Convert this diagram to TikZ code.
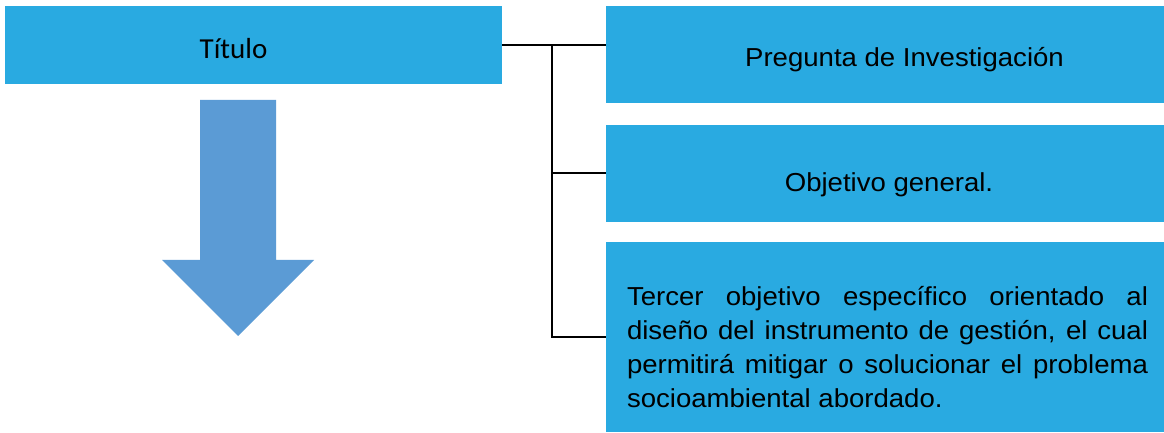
\documentclass[tikz,border=0pt]{standalone}
\usepackage{fontspec}
\setmainfont{Liberation Sans}[FakeStretch=1.06]
\newfontfamily\calibri{Carlito}
\definecolor{cajaazul}{RGB}{41,170,225}
\definecolor{flechaazul}{RGB}{91,155,213}
\def\px{0.5pt}

\begin{document}
\begin{tikzpicture}[x=0.5pt, y=-0.5pt, every node/.style={inner sep=0pt, outer sep=0pt}]
			\tikzstyle{caja}=[rectangle, fill=cajaazul, draw=none]
			\tikzstyle{texto}=[font=\fontsize{13}{17}\selectfont, anchor=base]
			\tikzstyle{linea}=[line width=1pt, black]
			\useasboundingbox (0,0) rectangle (1164,433);
			
			\node[caja, minimum width=497*\px, minimum height=78*\px](titulo) at (253.5,45) {};
			\node[caja, minimum width=558*\px, minimum height=97*\px](preg) at (885,54.5) {};
			\node[caja, minimum width=558*\px, minimum height=97*\px](obj) at (885,173.5) {};
			\node[caja, minimum width=558*\px, minimum height=190*\px](terc) at (885,337) {};
			
			\node[anchor=base, font=\calibri\fontsize{14.5}{17}\selectfont](titulo-t) at (233.5,59) {Título};
			\node[texto](preg-t) at (904.5,67) {Pregunta de Investigación};
			\node[texto](obj-t) at (889,191.5) {Objetivo general.};
			\node[texto, anchor=base west, text width=521*\px, align=justify](terc-t) at (627,306)
			{Tercer objetivo específico orientado al\linebreak diseño del instrumento de gestión, el cual\linebreak permitirá mitigar o solucionar el problema\linebreak socioambiental abordado.};
			
			\fill[flechaazul] (200,100) -- (276,100) -- (276,260) -- (314,260) -- (238,336) -- (162,260) -- (200,260) -- cycle;
			
			\coordinate (bus) at (552,45);
			\draw[linea] (titulo.east) -- (titulo.east -| preg.west);
			\draw[linea] (bus) |- (terc.west);
			\draw[linea] (bus |- obj.west) -- (obj.west);
			\end{tikzpicture}
\end{document}
